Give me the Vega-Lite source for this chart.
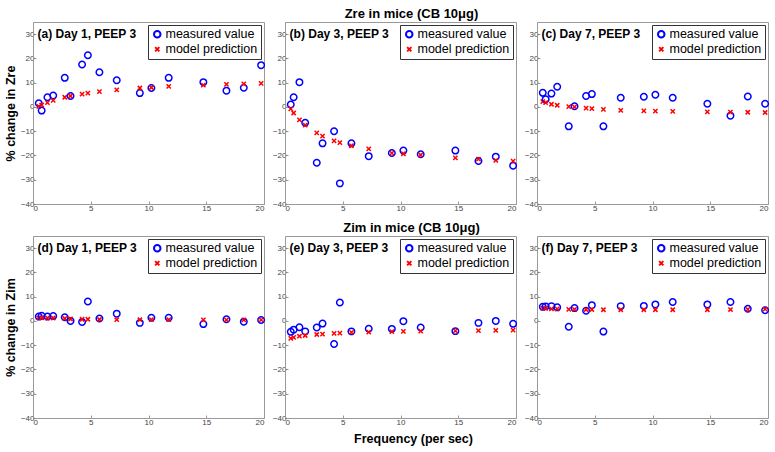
{
 "$schema": "https://vega.github.io/schema/vega-lite/v6.json",
 "padding": {"left": 3, "top": 7, "right": 5, "bottom": 5},
 "background": "white",
 "datasets": {
  "z": [
   {"p":"a","f":0.5,"measured value":1.5,"model prediction":0.2},
   {"p":"a","f":0.75,"measured value":-1.5,"model prediction":0.8},
   {"p":"a","f":1.25,"measured value":4,"model prediction":1.8},
   {"p":"a","f":1.75,"measured value":4.7,"model prediction":2.7},
   {"p":"a","f":2.75,"measured value":12,"model prediction":4},
   {"p":"a","f":3.25,"measured value":4.5,"model prediction":4.5},
   {"p":"a","f":4.25,"measured value":17.5,"model prediction":5.3},
   {"p":"a","f":4.75,"measured value":21.3,"model prediction":5.7},
   {"p":"a","f":5.75,"measured value":14.3,"model prediction":6.3},
   {"p":"a","f":7.25,"measured value":11,"model prediction":7},
   {"p":"a","f":9.25,"measured value":5.7,"model prediction":7.8},
   {"p":"a","f":10.25,"measured value":7.8,"model prediction":8},
   {"p":"a","f":11.75,"measured value":12,"model prediction":8.5},
   {"p":"a","f":14.75,"measured value":10.2,"model prediction":9},
   {"p":"a","f":16.75,"measured value":6.7,"model prediction":9.3},
   {"p":"a","f":18.25,"measured value":7.9,"model prediction":9.5},
   {"p":"a","f":19.75,"measured value":17.2,"model prediction":9.7},
   {"p":"b","f":0.5,"measured value":1,"model prediction":-0.8},
   {"p":"b","f":0.75,"measured value":4,"model prediction":-2.5},
   {"p":"b","f":1.25,"measured value":10.2,"model prediction":-5.3},
   {"p":"b","f":1.75,"measured value":-6.5,"model prediction":-7.5},
   {"p":"b","f":2.75,"measured value":-23,"model prediction":-10.7},
   {"p":"b","f":3.25,"measured value":-15,"model prediction":-12},
   {"p":"b","f":4.25,"measured value":-10,"model prediction":-14},
   {"p":"b","f":4.75,"measured value":-31.5,"model prediction":-14.7},
   {"p":"b","f":5.75,"measured value":-15,"model prediction":-16},
   {"p":"b","f":7.25,"measured value":-20.3,"model prediction":-17.3},
   {"p":"b","f":9.25,"measured value":-19,"model prediction":-19},
   {"p":"b","f":10.25,"measured value":-18,"model prediction":-19.3},
   {"p":"b","f":11.75,"measured value":-19.5,"model prediction":-19.8},
   {"p":"b","f":14.75,"measured value":-18,"model prediction":-21},
   {"p":"b","f":16.75,"measured value":-22.3,"model prediction":-21.5},
   {"p":"b","f":18.25,"measured value":-20.5,"model prediction":-22},
   {"p":"b","f":19.75,"measured value":-24.2,"model prediction":-22.3},
   {"p":"c","f":0.5,"measured value":5.8,"model prediction":2.2},
   {"p":"c","f":0.75,"measured value":3.2,"model prediction":1.8},
   {"p":"c","f":1.25,"measured value":5.5,"model prediction":1.1},
   {"p":"c","f":1.75,"measured value":8.3,"model prediction":0.7},
   {"p":"c","f":2.75,"measured value":-8,"model prediction":0.1},
   {"p":"c","f":3.25,"measured value":0.3,"model prediction":0},
   {"p":"c","f":4.25,"measured value":4.5,"model prediction":-0.5},
   {"p":"c","f":4.75,"measured value":5.3,"model prediction":-0.7},
   {"p":"c","f":5.75,"measured value":-8,"model prediction":-1},
   {"p":"c","f":7.25,"measured value":3.8,"model prediction":-1.4},
   {"p":"c","f":9.25,"measured value":4.2,"model prediction":-1.6},
   {"p":"c","f":10.25,"measured value":5,"model prediction":-1.7},
   {"p":"c","f":11.75,"measured value":3.8,"model prediction":-1.8},
   {"p":"c","f":14.75,"measured value":1.3,"model prediction":-2},
   {"p":"c","f":16.75,"measured value":-3.6,"model prediction":-2.1},
   {"p":"c","f":18.25,"measured value":4.3,"model prediction":-2.2},
   {"p":"c","f":19.75,"measured value":1.3,"model prediction":-2.3},
   {"p":"d","f":0.5,"measured value":1.8,"model prediction":1.3},
   {"p":"d","f":0.75,"measured value":2.1,"model prediction":1.3},
   {"p":"d","f":1.25,"measured value":1.8,"model prediction":1.2},
   {"p":"d","f":1.75,"measured value":2,"model prediction":1.2},
   {"p":"d","f":2.75,"measured value":1.5,"model prediction":1},
   {"p":"d","f":3.25,"measured value":0,"model prediction":0.8},
   {"p":"d","f":4.25,"measured value":-0.4,"model prediction":0.7},
   {"p":"d","f":4.75,"measured value":8,"model prediction":0.7},
   {"p":"d","f":5.75,"measured value":1,"model prediction":0.6},
   {"p":"d","f":7.25,"measured value":3,"model prediction":0.5},
   {"p":"d","f":9.25,"measured value":-0.8,"model prediction":0.5},
   {"p":"d","f":10.25,"measured value":1.3,"model prediction":0.5},
   {"p":"d","f":11.75,"measured value":1.3,"model prediction":0.5},
   {"p":"d","f":14.75,"measured value":-1.3,"model prediction":0.4},
   {"p":"d","f":16.75,"measured value":0.7,"model prediction":0.4},
   {"p":"d","f":18.25,"measured value":-0.3,"model prediction":0.4},
   {"p":"d","f":19.75,"measured value":0.4,"model prediction":0.4},
   {"p":"e","f":0.5,"measured value":-4.5,"model prediction":-7.2},
   {"p":"e","f":0.75,"measured value":-3.6,"model prediction":-6.8},
   {"p":"e","f":1.25,"measured value":-2.6,"model prediction":-6.3},
   {"p":"e","f":1.75,"measured value":-4.3,"model prediction":-6},
   {"p":"e","f":2.75,"measured value":-2.7,"model prediction":-5.6},
   {"p":"e","f":3.25,"measured value":-1.1,"model prediction":-5.4},
   {"p":"e","f":4.25,"measured value":-9.5,"model prediction":-5.1},
   {"p":"e","f":4.75,"measured value":7.6,"model prediction":-5},
   {"p":"e","f":5.75,"measured value":-4.3,"model prediction":-4.7},
   {"p":"e","f":7.25,"measured value":-3.2,"model prediction":-4.6},
   {"p":"e","f":9.25,"measured value":-3.3,"model prediction":-4.4},
   {"p":"e","f":10.25,"measured value":-0.1,"model prediction":-4.3},
   {"p":"e","f":11.75,"measured value":-2.7,"model prediction":-4.2},
   {"p":"e","f":14.75,"measured value":-4.2,"model prediction":-4.1},
   {"p":"e","f":16.75,"measured value":-0.8,"model prediction":-4},
   {"p":"e","f":18.25,"measured value":0,"model prediction":-3.9},
   {"p":"e","f":19.75,"measured value":-1.2,"model prediction":-3.8},
   {"p":"f","f":0.5,"measured value":5.8,"model prediction":5.3},
   {"p":"f","f":0.75,"measured value":6,"model prediction":5.2},
   {"p":"f","f":1.25,"measured value":6.1,"model prediction":5},
   {"p":"f","f":1.75,"measured value":5.6,"model prediction":5},
   {"p":"f","f":2.75,"measured value":-2.4,"model prediction":4.8},
   {"p":"f","f":3.25,"measured value":5.3,"model prediction":4.8},
   {"p":"f","f":4.25,"measured value":4.2,"model prediction":4.7},
   {"p":"f","f":4.75,"measured value":6.5,"model prediction":4.7},
   {"p":"f","f":5.75,"measured value":-4.4,"model prediction":4.6},
   {"p":"f","f":7.25,"measured value":6.1,"model prediction":4.6},
   {"p":"f","f":9.25,"measured value":6.2,"model prediction":4.6},
   {"p":"f","f":10.25,"measured value":6.8,"model prediction":4.6},
   {"p":"f","f":11.75,"measured value":7.8,"model prediction":4.6},
   {"p":"f","f":14.75,"measured value":6.8,"model prediction":4.6},
   {"p":"f","f":16.75,"measured value":7.8,"model prediction":4.7},
   {"p":"f","f":18.25,"measured value":5,"model prediction":4.8},
   {"p":"f","f":19.75,"measured value":4.4,"model prediction":4.9}
  ]
 },
 "columns": 3,
 "spacing": {"row": 32, "column": 21},
 "bounds": "flush",
 "resolve": {
  "scale": {"color": "independent", "shape": "independent", "size": "independent"},
  "legend": {"color": "independent", "shape": "independent"}
 },
 "concat": [
  {"width": 231, "height": 182,
   "layer": [
    {"data": {"name": "z"},
     "transform": [{"filter": "datum.p === 'a'"}, {"fold": ["measured value", "model prediction"], "as": ["series", "value"]}],
     "mark": {"type": "point", "filled": false, "strokeWidth": 1.5, "opacity": 1},
     "encoding": {
      "x": {"field": "f", "type": "quantitative", "scale": {"domain": [0, 20], "nice": false}, "axis": {"values": [0, 5, 10, 15, 20], "title": null}},
      "y": {"field": "value", "type": "quantitative", "scale": {"domain": [-40, 35], "nice": false}, "axis": {"values": [-40, -30, -20, -10, 0, 10, 20, 30], "title": "% change in Zre"}},
      "color": {"field": "series", "type": "nominal", "scale": {"domain": ["measured value", "model prediction"], "range": ["#0000ff", "#ff0000"]}, "legend": {"title": null, "encode": {"symbols": {"update": {"size": {"value": 110}, "strokeWidth": {"value": 2}}}}}},
      "shape": {"field": "series", "type": "nominal", "scale": {"domain": ["measured value", "model prediction"], "range": ["circle", "M-1,-1L1,1M-1,1L1,-1"]}, "legend": {"title": null}},
      "size": {"field": "series", "type": "nominal", "scale": {"domain": ["measured value", "model prediction"], "range": [42, 18]}, "legend": null}
     }},
    {"data": {"values": [{"label": "(a) Day 1, PEEP 3"}]},
     "mark": {"type": "text", "align": "left", "baseline": "middle", "fontWeight": "bold", "fontSize": 12, "font": "Liberation Sans", "color": "black"},
     "encoding": {
      "x": {"datum": 0.4, "type": "quantitative", "axis": {"values": [0, 5, 10, 15, 20], "title": null}},
      "y": {"datum": 30, "type": "quantitative", "axis": {"values": [-40, -30, -20, -10, 0, 10, 20, 30], "title": "% change in Zre"}},
      "text": {"field": "label"}}}
   ]},
  {"width": 231, "height": 182,
   "title": {"text": "Zre in mice (CB 10μg)", "fontSize": 13, "fontWeight": "bold", "font": "Liberation Sans", "offset": 1, "dx": 11, "anchor": "middle", "color": "black"},
   "layer": [
    {"data": {"name": "z"},
     "transform": [{"filter": "datum.p === 'b'"}, {"fold": ["measured value", "model prediction"], "as": ["series", "value"]}],
     "mark": {"type": "point", "filled": false, "strokeWidth": 1.5, "opacity": 1},
     "encoding": {
      "x": {"field": "f", "type": "quantitative", "scale": {"domain": [0, 20], "nice": false}, "axis": {"values": [0, 5, 10, 15, 20], "title": null}},
      "y": {"field": "value", "type": "quantitative", "scale": {"domain": [-40, 35], "nice": false}, "axis": {"values": [-40, -30, -20, -10, 0, 10, 20, 30], "title": null}},
      "color": {"field": "series", "type": "nominal", "scale": {"domain": ["measured value", "model prediction"], "range": ["#0000ff", "#ff0000"]}, "legend": {"title": null, "encode": {"symbols": {"update": {"size": {"value": 110}, "strokeWidth": {"value": 2}}}}}},
      "shape": {"field": "series", "type": "nominal", "scale": {"domain": ["measured value", "model prediction"], "range": ["circle", "M-1,-1L1,1M-1,1L1,-1"]}, "legend": {"title": null}},
      "size": {"field": "series", "type": "nominal", "scale": {"domain": ["measured value", "model prediction"], "range": [42, 18]}, "legend": null}
     }},
    {"data": {"values": [{"label": "(b) Day 3, PEEP 3"}]},
     "mark": {"type": "text", "align": "left", "baseline": "middle", "fontWeight": "bold", "fontSize": 12, "font": "Liberation Sans", "color": "black"},
     "encoding": {
      "x": {"datum": 0.4, "type": "quantitative", "axis": {"values": [0, 5, 10, 15, 20], "title": null}},
      "y": {"datum": 30, "type": "quantitative", "axis": {"values": [-40, -30, -20, -10, 0, 10, 20, 30], "title": null}},
      "text": {"field": "label"}}}
   ]},
  {"width": 231, "height": 182,
   "layer": [
    {"data": {"name": "z"},
     "transform": [{"filter": "datum.p === 'c'"}, {"fold": ["measured value", "model prediction"], "as": ["series", "value"]}],
     "mark": {"type": "point", "filled": false, "strokeWidth": 1.5, "opacity": 1},
     "encoding": {
      "x": {"field": "f", "type": "quantitative", "scale": {"domain": [0, 20], "nice": false}, "axis": {"values": [0, 5, 10, 15, 20], "title": null}},
      "y": {"field": "value", "type": "quantitative", "scale": {"domain": [-40, 35], "nice": false}, "axis": {"values": [-40, -30, -20, -10, 0, 10, 20, 30], "title": null}},
      "color": {"field": "series", "type": "nominal", "scale": {"domain": ["measured value", "model prediction"], "range": ["#0000ff", "#ff0000"]}, "legend": {"title": null, "encode": {"symbols": {"update": {"size": {"value": 110}, "strokeWidth": {"value": 2}}}}}},
      "shape": {"field": "series", "type": "nominal", "scale": {"domain": ["measured value", "model prediction"], "range": ["circle", "M-1,-1L1,1M-1,1L1,-1"]}, "legend": {"title": null}},
      "size": {"field": "series", "type": "nominal", "scale": {"domain": ["measured value", "model prediction"], "range": [42, 18]}, "legend": null}
     }},
    {"data": {"values": [{"label": "(c) Day 7, PEEP 3"}]},
     "mark": {"type": "text", "align": "left", "baseline": "middle", "fontWeight": "bold", "fontSize": 12, "font": "Liberation Sans", "color": "black"},
     "encoding": {
      "x": {"datum": 0.4, "type": "quantitative", "axis": {"values": [0, 5, 10, 15, 20], "title": null}},
      "y": {"datum": 30, "type": "quantitative", "axis": {"values": [-40, -30, -20, -10, 0, 10, 20, 30], "title": null}},
      "text": {"field": "label"}}}
   ]},
  {"width": 231, "height": 182,
   "layer": [
    {"data": {"name": "z"},
     "transform": [{"filter": "datum.p === 'd'"}, {"fold": ["measured value", "model prediction"], "as": ["series", "value"]}],
     "mark": {"type": "point", "filled": false, "strokeWidth": 1.5, "opacity": 1},
     "encoding": {
      "x": {"field": "f", "type": "quantitative", "scale": {"domain": [0, 20], "nice": false}, "axis": {"values": [0, 5, 10, 15, 20], "title": null}},
      "y": {"field": "value", "type": "quantitative", "scale": {"domain": [-40, 35], "nice": false}, "axis": {"values": [-40, -30, -20, -10, 0, 10, 20, 30], "title": "% change in Zim"}},
      "color": {"field": "series", "type": "nominal", "scale": {"domain": ["measured value", "model prediction"], "range": ["#0000ff", "#ff0000"]}, "legend": {"title": null, "encode": {"symbols": {"update": {"size": {"value": 110}, "strokeWidth": {"value": 2}}}}}},
      "shape": {"field": "series", "type": "nominal", "scale": {"domain": ["measured value", "model prediction"], "range": ["circle", "M-1,-1L1,1M-1,1L1,-1"]}, "legend": {"title": null}},
      "size": {"field": "series", "type": "nominal", "scale": {"domain": ["measured value", "model prediction"], "range": [42, 18]}, "legend": null}
     }},
    {"data": {"values": [{"label": "(d) Day 1, PEEP 3"}]},
     "mark": {"type": "text", "align": "left", "baseline": "middle", "fontWeight": "bold", "fontSize": 12, "font": "Liberation Sans", "color": "black"},
     "encoding": {
      "x": {"datum": 0.4, "type": "quantitative", "axis": {"values": [0, 5, 10, 15, 20], "title": null}},
      "y": {"datum": 30, "type": "quantitative", "axis": {"values": [-40, -30, -20, -10, 0, 10, 20, 30], "title": "% change in Zim"}},
      "text": {"field": "label"}}}
   ]},
  {"width": 231, "height": 182,
   "title": {"text": "Zim in mice (CB 10μg)", "fontSize": 13, "fontWeight": "bold", "font": "Liberation Sans", "offset": 1, "dx": 11, "anchor": "middle", "color": "black"},
   "layer": [
    {"data": {"name": "z"},
     "transform": [{"filter": "datum.p === 'e'"}, {"fold": ["measured value", "model prediction"], "as": ["series", "value"]}],
     "mark": {"type": "point", "filled": false, "strokeWidth": 1.5, "opacity": 1},
     "encoding": {
      "x": {"field": "f", "type": "quantitative", "scale": {"domain": [0, 20], "nice": false}, "axis": {"values": [0, 5, 10, 15, 20], "title": "Frequency (per sec)", "titleX": 128}},
      "y": {"field": "value", "type": "quantitative", "scale": {"domain": [-40, 35], "nice": false}, "axis": {"values": [-40, -30, -20, -10, 0, 10, 20, 30], "title": null}},
      "color": {"field": "series", "type": "nominal", "scale": {"domain": ["measured value", "model prediction"], "range": ["#0000ff", "#ff0000"]}, "legend": {"title": null, "encode": {"symbols": {"update": {"size": {"value": 110}, "strokeWidth": {"value": 2}}}}}},
      "shape": {"field": "series", "type": "nominal", "scale": {"domain": ["measured value", "model prediction"], "range": ["circle", "M-1,-1L1,1M-1,1L1,-1"]}, "legend": {"title": null}},
      "size": {"field": "series", "type": "nominal", "scale": {"domain": ["measured value", "model prediction"], "range": [42, 18]}, "legend": null}
     }},
    {"data": {"values": [{"label": "(e) Day 3, PEEP 3"}]},
     "mark": {"type": "text", "align": "left", "baseline": "middle", "fontWeight": "bold", "fontSize": 12, "font": "Liberation Sans", "color": "black"},
     "encoding": {
      "x": {"datum": 0.4, "type": "quantitative", "axis": {"values": [0, 5, 10, 15, 20], "title": "Frequency (per sec)", "titleX": 128}},
      "y": {"datum": 30, "type": "quantitative", "axis": {"values": [-40, -30, -20, -10, 0, 10, 20, 30], "title": null}},
      "text": {"field": "label"}}}
   ]},
  {"width": 231, "height": 182,
   "layer": [
    {"data": {"name": "z"},
     "transform": [{"filter": "datum.p === 'f'"}, {"fold": ["measured value", "model prediction"], "as": ["series", "value"]}],
     "mark": {"type": "point", "filled": false, "strokeWidth": 1.5, "opacity": 1},
     "encoding": {
      "x": {"field": "f", "type": "quantitative", "scale": {"domain": [0, 20], "nice": false}, "axis": {"values": [0, 5, 10, 15, 20], "title": null}},
      "y": {"field": "value", "type": "quantitative", "scale": {"domain": [-40, 35], "nice": false}, "axis": {"values": [-40, -30, -20, -10, 0, 10, 20, 30], "title": null}},
      "color": {"field": "series", "type": "nominal", "scale": {"domain": ["measured value", "model prediction"], "range": ["#0000ff", "#ff0000"]}, "legend": {"title": null, "encode": {"symbols": {"update": {"size": {"value": 110}, "strokeWidth": {"value": 2}}}}}},
      "shape": {"field": "series", "type": "nominal", "scale": {"domain": ["measured value", "model prediction"], "range": ["circle", "M-1,-1L1,1M-1,1L1,-1"]}, "legend": {"title": null}},
      "size": {"field": "series", "type": "nominal", "scale": {"domain": ["measured value", "model prediction"], "range": [42, 18]}, "legend": null}
     }},
    {"data": {"values": [{"label": "(f) Day 7, PEEP 3"}]},
     "mark": {"type": "text", "align": "left", "baseline": "middle", "fontWeight": "bold", "fontSize": 12, "font": "Liberation Sans", "color": "black"},
     "encoding": {
      "x": {"datum": 0.4, "type": "quantitative", "axis": {"values": [0, 5, 10, 15, 20], "title": null}},
      "y": {"datum": 30, "type": "quantitative", "axis": {"values": [-40, -30, -20, -10, 0, 10, 20, 30], "title": null}},
      "text": {"field": "label"}}}
   ]}
 ],
 "config": {
  "font": "Liberation Sans",
  "view": {"stroke": "#9a9a9a", "strokeWidth": 1},
  "axis": {
   "grid": false,
   "domainColor": "#9a9a9a",
   "tickColor": "#9a9a9a",
   "tickSize": -3,
   "labelOverlap": false,
   "labelFont": "Liberation Sans",
   "labelFontSize": 8,
   "labelColor": "#444444",
   "labelPadding": 2,
   "titleFont": "Liberation Sans",
   "titleFontSize": 12.5,
   "titleFontWeight": "bold",
   "titleColor": "black",
   "titlePadding": 3
  },
  "axisX": {"labelPadding": 3, "titlePadding": 6},
  "legend": {
   "orient": "top-right",
   "offset": 3,
   "strokeColor": "#333333",
   "fillColor": "white",
   "padding": 3,
   "labelFont": "Liberation Sans",
   "labelFontSize": 12.5,
   "labelColor": "black",
   "labelOffset": 2,
   "symbolSize": 110,
   "symbolStrokeWidth": 2,
   "rowPadding": 1,
   "cornerRadius": 0
  }
 }
}
